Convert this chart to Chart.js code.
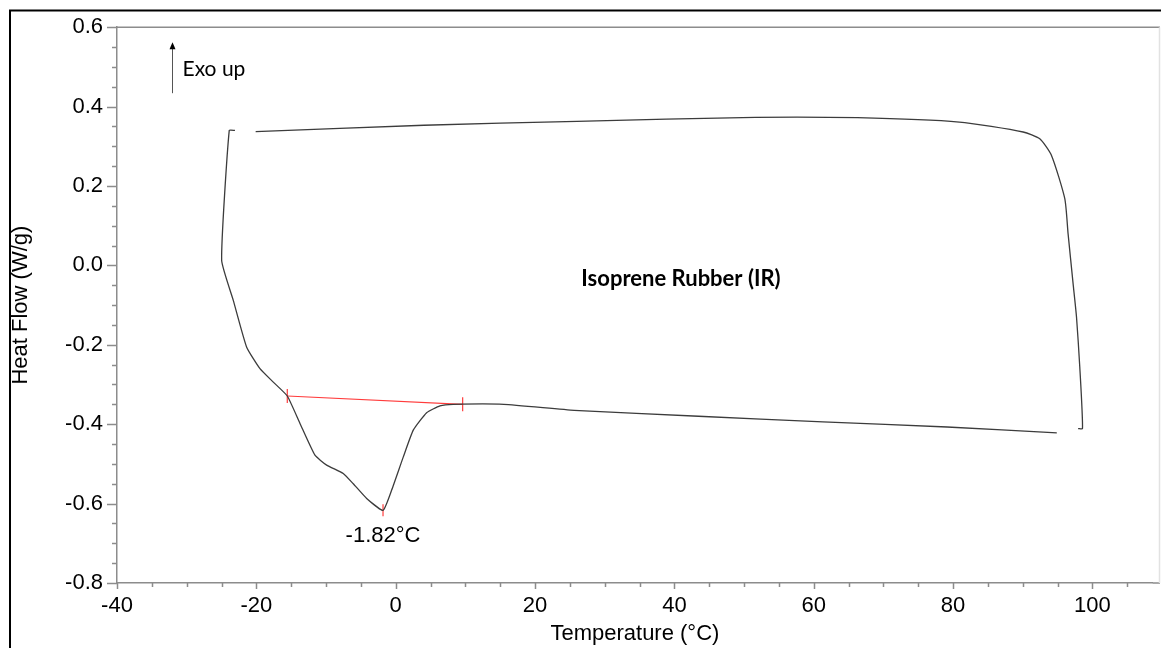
<!DOCTYPE html>
<html>
<head>
<meta charset="utf-8">
<title>Isoprene Rubber DSC</title>
<script src="https://cdn.jsdelivr.net/npm/chart.js@4.4.0/dist/chart.umd.min.js"></script>
<style>
  html, body { margin: 0; padding: 0; background: #fff; }
  #wrap { position: relative; width: 1161px; height: 648px; }
</style>
</head>
<body>
<div id="wrap"><canvas id="dscChart" width="1161" height="648"></canvas></div>
<script>
// heating run (deg C / W/g)
const heatTemp = [-23.07, -23.89, -24.98, -23.31, -21.39, -19.48, -17.57, -15.56, -13.74, -11.59, -9.91, -7.53, -6.09, -4.17, -1.82, -0.58, 1.08, 2.52, 4.44, 6.35, 8.26, 15.52, 25.62, 43.46, 61.31, 79.14, 94.88];
const heatFlow = [0.340, 0.340, 0.013, -0.088, -0.206, -0.260, -0.294, -0.329, -0.398, -0.478, -0.503, -0.524, -0.550, -0.587, -0.617, -0.566, -0.483, -0.415, -0.371, -0.354, -0.350, -0.350, -0.365, -0.380, -0.394, -0.407, -0.422];

// cooling run
const coolTemp = [97.94, 98.57, 98.18, 97.71, 97.22, 96.50, 96.03, 94.12, 92.44, 90.05, 80.89, 66.26, 51.62, 26.01, 4.05, -20.10];
const coolFlow = [-0.411, -0.411, -0.256, -0.130, -0.046, 0.080, 0.168, 0.277, 0.319, 0.336, 0.361, 0.372, 0.373, 0.363, 0.353, 0.337];

// peak integration (baseline ends + peak)
const baseTemp = [-15.56, 9.61];
const baseFlow = [-0.329, -0.350];
const peakTemp = [-1.82];
const peakFlow = [-0.617];
const peakLabel = '-1.82°C';

const xTicks = [-40, -20, 0, 20, 40, 60, 80, 100];
const yTicks = [-0.8, -0.6, -0.4, -0.2, 0.0, 0.2, 0.4, 0.6];

const toPts = (xs, ys) => xs.map((v, i) => ({ x: v, y: ys[i] }));

const lineCol = '#3c3c3c';
const axisCol = '#8c8c8c';
const red = '#ff3c3c';
const tickFont = { family: '"Liberation Sans", Arial, sans-serif', size: 22 };

// ticks, frame and notes
const decor = {
  id: 'decor',
  afterDraw(chart) {
    const { ctx, chartArea: a, scales: { x, y } } = chart;
    const edge = chart.width - 1;
    ctx.save();

    // outer black frame (cropped figure)
    ctx.strokeStyle = '#000';
    ctx.lineWidth = 2;
    ctx.beginPath();
    ctx.moveTo(10, 648);
    ctx.lineTo(10, 10.5);
    ctx.lineTo(1161, 10.5);
    ctx.stroke();

    // top / bottom frame run out to the edge, faint right side
    ctx.strokeStyle = axisCol;
    ctx.lineWidth = 1.5;
    ctx.beginPath();
    ctx.moveTo(a.left, a.top);
    ctx.lineTo(edge, a.top);
    ctx.moveTo(a.right, a.bottom);
    ctx.lineTo(edge, a.bottom);
    ctx.stroke();
    ctx.strokeStyle = '#e2e2e2';
    ctx.beginPath();
    ctx.moveTo(edge - 0.5, a.top);
    ctx.lineTo(edge - 0.5, a.bottom);
    ctx.stroke();

    // major + minor tick marks
    ctx.strokeStyle = axisCol;
    ctx.lineWidth = 1.5;
    ctx.beginPath();
    for (let v = -40; v <= 110; v += 5) {
      const px = Math.round(x.getPixelForValue(v)) + 0.5;
      if (px > edge) break;
      const len = v % 20 === 0 ? 6 : 4;
      ctx.moveTo(px, a.bottom);
      ctx.lineTo(px, a.bottom + len);
    }
    for (let k = -16; k <= 12; k++) {
      const py = Math.round(y.getPixelForValue(k * 0.05)) + 0.5;
      const len = k % 4 === 0 ? 10 : 5;
      ctx.moveTo(a.left, py);
      ctx.lineTo(a.left - len, py);
    }
    ctx.stroke();

    // peak temperature label
    ctx.fillStyle = '#000';
    ctx.font = '22px "Liberation Sans", Arial, sans-serif';
    ctx.textAlign = 'center';
    ctx.textBaseline = 'middle';
    ctx.fillText(peakLabel, x.getPixelForValue(peakTemp[0]), y.getPixelForValue(peakFlow[0]) + 26);

    // sample name
    ctx.font = 'bold 22px Lato, "Open Sans", sans-serif';
    ctx.fillText('Isoprene Rubber (IR)', a.left + 564, a.top + 252);

    // Exo up arrow
    const ax = a.left + 55.5;
    ctx.strokeStyle = '#555';
    ctx.lineWidth = 1;
    ctx.beginPath();
    ctx.moveTo(ax, a.top + 66);
    ctx.lineTo(ax, a.top + 20);
    ctx.stroke();
    ctx.fillStyle = '#000';
    ctx.beginPath();
    ctx.moveTo(ax, a.top + 15);
    ctx.lineTo(ax - 3, a.top + 22);
    ctx.lineTo(ax + 3, a.top + 22);
    ctx.closePath();
    ctx.fill();
    ctx.font = '21px Lato, "Open Sans", sans-serif';
    ctx.textAlign = 'left';
    ctx.fillText('Exo up', ax + 10, a.top + 42);

    ctx.restore();
  }
};

new Chart(document.getElementById('dscChart'), {
  type: 'scatter',
  data: {
    datasets: [
      {
        label: 'Heating',
        data: toPts(heatTemp, heatFlow),
        showLine: true,
        borderColor: lineCol,
        borderWidth: 1.3,
        pointRadius: 0,
        tension: 0.15
      },
      {
        label: 'Cooling',
        data: toPts(coolTemp, coolFlow),
        showLine: true,
        borderColor: lineCol,
        borderWidth: 1.3,
        pointRadius: 0,
        tension: 0.2
      },
      {
        label: 'Baseline',
        data: toPts(baseTemp, baseFlow),
        showLine: true,
        borderColor: red,
        borderWidth: 1.2,
        pointStyle: 'line',
        pointRotation: 90,
        pointRadius: 7,
        pointBorderColor: red,
        pointBorderWidth: 1.2
      },
      {
        label: 'Peak',
        data: toPts(peakTemp, peakFlow),
        showLine: false,
        pointStyle: 'line',
        pointRotation: 90,
        pointRadius: 6,
        pointBorderColor: red,
        pointBorderWidth: 1.2
      }
    ]
  },
  options: {
    responsive: false,
    animation: false,
    layout: { padding: { left: 0, top: 27, right: 0, bottom: 0 } },
    plugins: {
      legend: { display: false },
      tooltip: { enabled: false }
    },
    scales: {
      x: {
        type: 'linear',
        min: -40,
        max: 108.66,
        afterBuildTicks: s => { s.ticks = xTicks.map(v => ({ value: v })); },
        afterFit: s => { s.height = 65; },
        ticks: { color: '#000', font: tickFont, padding: 10, maxRotation: 0, autoSkip: false },
        grid: { display: true, drawOnChartArea: false, drawTicks: false },
        border: { color: axisCol, width: 1.5 },
        title: {
          display: true,
          text: 'Temperature (°C)',
          color: '#000',
          font: tickFont,
          padding: { top: 0, bottom: 1 }
        }
      },
      y: {
        type: 'linear',
        min: -0.8,
        max: 0.6,
        afterBuildTicks: s => { s.ticks = yTicks.map(v => ({ value: v })); },
        afterFit: s => { s.width = 117; },
        ticks: {
          color: '#000',
          font: tickFont,
          padding: 14,
          autoSkip: false,
          callback: v => Number(v).toFixed(1)
        },
        grid: { display: true, drawOnChartArea: false, drawTicks: false },
        border: { color: axisCol, width: 1.5 },
        title: {
          display: true,
          text: 'Heat Flow (W/g)',
          color: '#000',
          font: tickFont,
          padding: { top: 8, bottom: 0 }
        }
      }
    }
  },
  plugins: [decor]
});
</script>
</body>
</html>
